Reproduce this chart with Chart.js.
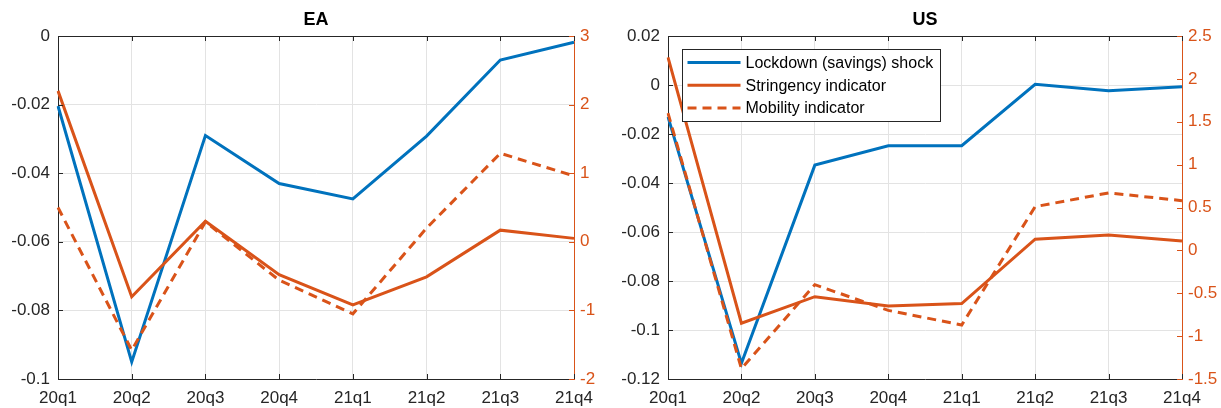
<!DOCTYPE html>
<html>
<head>
<meta charset="utf-8">
<script src="https://cdn.jsdelivr.net/npm/chart.js@4"></script>
<style>
    body { margin: 0; background: #fff; }
    #wrap { position: relative; width: 1221px; height: 408px; }
    #eaChart { position: absolute; left: 0; top: 0; }
    #usChart { position: absolute; left: 610px; top: 0; }
</style>
</head>
<body>
<div id="wrap">
    <canvas id="eaChart" width="610" height="408"></canvas>
    <canvas id="usChart" width="611" height="408"></canvas>
</div>
<script>
const quarters = ['20q1', '20q2', '20q3', '20q4', '21q1', '21q2', '21q3', '21q4'];

// EA
const eaShock = [-0.0204, -0.095, -0.029, -0.043, -0.0475, -0.0292, -0.007, -0.0018];
const eaStringency = [2.2, -0.8, 0.3, -0.48, -0.92, -0.51, 0.17, 0.05];
const eaMobility = [0.5, -1.58, 0.29, -0.56, -1.05, 0.2, 1.29, 0.96];

// US
const usShock = [-0.013, -0.1136, -0.0327, -0.0248, -0.0248, 0.0003, -0.0023, -0.0007];
const usStringency = [2.25, -0.85, -0.54, -0.65, -0.62, 0.13, 0.18, 0.11];
const usMobility = [1.6, -1.38, -0.4, -0.7, -0.87, 0.51, 0.67, 0.58];

const seriesNames = ['Lockdown (savings) shock', 'Stringency indicator', 'Mobility indicator'];

const BLUE = '#0072BD';
const ORANGE = '#D95319';
const DARK = '#262626';
const FONT = "'Liberation Sans', Arial, Helvetica, sans-serif";

const fmt = v => String(Number(v.toFixed(2)));

// matlab style inward ticks + top box line
const innerTicks = {
    id: 'innerTicks',
    afterDraw(chart) {
        const { ctx, chartArea: a, scales } = chart;
        const len = 5;
        const px = v => Math.round(v) + 0.5;
        ctx.save();
        ctx.lineWidth = 1;
        ctx.strokeStyle = DARK;
        ctx.beginPath();
        ctx.moveTo(a.left, px(a.top));
        ctx.lineTo(a.right, px(a.top));
        scales.x.ticks.forEach((t, i) => {
            const x = px(scales.x.getPixelForTick(i));
            ctx.moveTo(x, a.bottom);
            ctx.lineTo(x, a.bottom - len);
            ctx.moveTo(x, a.top);
            ctx.lineTo(x, a.top + len);
        });
        scales.y.ticks.forEach(t => {
            const y = px(scales.y.getPixelForValue(t.value));
            ctx.moveTo(a.left, y);
            ctx.lineTo(a.left + len, y);
        });
        ctx.stroke();
        ctx.strokeStyle = ORANGE;
        ctx.beginPath();
        scales.y1.ticks.forEach(t => {
            const y = px(scales.y1.getPixelForValue(t.value));
            ctx.moveTo(a.right, y);
            ctx.lineTo(a.right - len, y);
        });
        ctx.stroke();
        ctx.restore();
    }
};

// boxed legend in the upper left of the plot
const boxLegend = {
    id: 'boxLegend',
    afterDraw(chart, args, opts) {
        if (!opts.show) return;
        const { ctx, chartArea: a } = chart;
        const left = a.left + 14.5;
        const top = a.top + 13.5;
        ctx.save();
        ctx.fillStyle = '#fff';
        ctx.fillRect(left, top, 258, 72);
        ctx.strokeStyle = DARK;
        ctx.lineWidth = 1;
        ctx.strokeRect(left, top, 258, 72);
        ctx.font = '16px ' + FONT;
        ctx.textBaseline = 'middle';
        chart.data.datasets.forEach((ds, i) => {
            const y = top + 13 + i * 22.7;
            ctx.strokeStyle = ds.borderColor;
            ctx.lineWidth = 3;
            ctx.setLineDash(ds.borderDash || []);
            ctx.beginPath();
            ctx.moveTo(left + 5, y);
            ctx.lineTo(left + 58, y);
            ctx.stroke();
            ctx.setLineDash([]);
            ctx.fillStyle = '#000';
            ctx.fillText(ds.label, left + 63, y + 1);
        });
        ctx.restore();
    }
};

function makeChart(id, title, shock, stringency, mobility, left, right, showLegend) {
    const ctx = document.getElementById(id).getContext('2d');

    return new Chart(ctx, {
        type: 'line',
        data: {
            labels: quarters,
            datasets: [{
                label: seriesNames[0],
                data: shock,
                yAxisID: 'y',
                borderColor: BLUE,
                borderWidth: 3,
                pointRadius: 0,
                tension: 0,
                order: 2
            }, {
                label: seriesNames[1],
                data: stringency,
                yAxisID: 'y1',
                borderColor: ORANGE,
                borderWidth: 3,
                pointRadius: 0,
                tension: 0,
                order: 1
            }, {
                label: seriesNames[2],
                data: mobility,
                yAxisID: 'y1',
                borderColor: ORANGE,
                borderWidth: 3,
                borderDash: [9, 6],
                pointRadius: 0,
                tension: 0,
                order: 0
            }]
        },
        options: {
            responsive: false,
            animation: false,
            events: [],
            plugins: {
                legend: { display: false },
                tooltip: { enabled: false },
                title: {
                    display: true,
                    text: title,
                    fullSize: false,
                    color: '#000',
                    font: { family: FONT, size: 18, weight: 'bold', lineHeight: 1.2 },
                    padding: { top: 9, bottom: 5.4 }
                },
                boxLegend: { show: showLegend }
            },
            layout: { padding: 0 },
            scales: {
                x: {
                    type: 'category',
                    offset: false,
                    grid: { color: '#e3e3e3', drawTicks: false },
                    border: { color: DARK, width: 1 },
                    ticks: {
                        color: DARK,
                        padding: 9,
                        maxRotation: 0,
                        autoSkip: false,
                        font: { family: FONT, size: 17 }
                    },
                    afterFit(scale) { scale.height = 29; }
                },
                y: {
                    position: 'left',
                    min: left.min,
                    max: left.max,
                    grid: { color: '#e3e3e3', drawTicks: false },
                    border: { color: DARK, width: 1 },
                    ticks: {
                        stepSize: left.step,
                        color: DARK,
                        padding: 8,
                        font: { family: FONT, size: 17 },
                        callback: fmt
                    },
                    afterFit(scale) { scale.width = left.width; }
                },
                y1: {
                    position: 'right',
                    min: right.min,
                    max: right.max,
                    grid: { drawOnChartArea: false, drawTicks: false },
                    border: { color: ORANGE, width: 1 },
                    ticks: {
                        stepSize: right.step,
                        color: ORANGE,
                        padding: 6,
                        font: { family: FONT, size: 17 },
                        callback: fmt
                    },
                    afterFit(scale) { scale.width = right.width; }
                }
            }
        },
        plugins: [innerTicks, boxLegend]
    });
}

makeChart('eaChart', 'EA', eaShock, eaStringency, eaMobility,
    { min: -0.1, max: 0, step: 0.02, width: 58 },
    { min: -2, max: 3, step: 1, width: 36 },
    false);

makeChart('usChart', 'US', usShock, usStringency, usMobility,
    { min: -0.12, max: 0.02, step: 0.02, width: 58 },
    { min: -1.5, max: 2.5, step: 0.5, width: 39 },
    true);
</script>
</body>
</html>
